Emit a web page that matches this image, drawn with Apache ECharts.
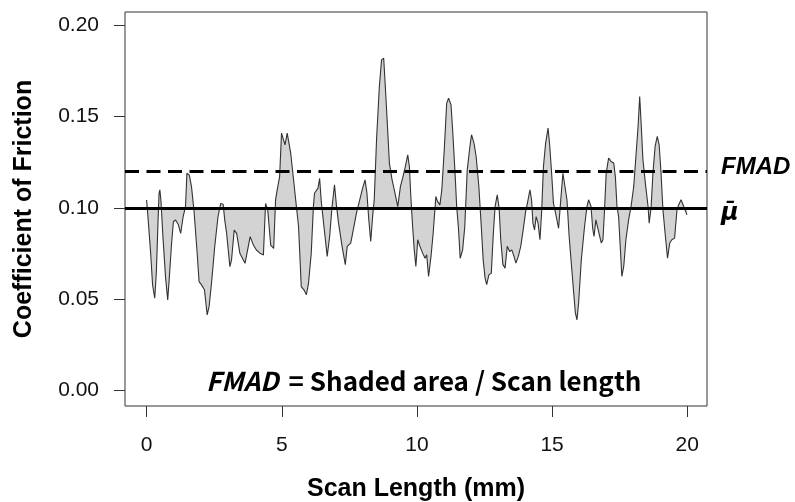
<!DOCTYPE html>
<html>
<head>
<meta charset="utf-8">
<script src="https://cdn.jsdelivr.net/npm/echarts@6/dist/echarts.min.js"></script>
<style>
html,body{margin:0;padding:0;background:#fff;}
#chart{width:795px;height:502px;}
</style>
</head>
<body>
<div id="chart"></div>
<script>
// Scan position (mm)
const scanX = [0.00,0.05,0.15,0.22,0.30,0.36,0.42,0.46,0.49,0.53,0.60,0.70,0.78,0.84,0.92,0.99,1.07,1.17,1.26,1.35,1.44,1.49,1.58,1.66,1.75,1.87,1.94,2.03,2.14,2.24,2.31,2.40,2.52,2.64,2.74,2.83,2.89,2.96,3.08,3.14,3.24,3.33,3.45,3.64,3.83,3.95,4.06,4.20,4.32,4.40,4.48,4.59,4.70,4.77,4.83,4.92,4.99,5.05,5.12,5.20,5.26,5.33,5.41,5.54,5.62,5.72,5.82,5.91,5.99,6.09,6.17,6.21,6.34,6.40,6.46,6.56,6.68,6.77,6.86,6.95,7.02,7.10,7.23,7.35,7.42,7.55,7.67,7.76,7.87,7.99,8.08,8.15,8.21,8.29,8.36,8.42,8.51,8.61,8.69,8.77,8.83,8.91,8.98,9.08,9.16,9.29,9.39,9.47,9.57,9.66,9.72,9.78,9.84,9.90,9.96,10.03,10.11,10.21,10.30,10.36,10.43,10.52,10.60,10.70,10.76,10.85,10.92,11.01,11.10,11.17,11.26,11.32,11.41,11.47,11.54,11.60,11.69,11.77,11.86,11.96,12.02,12.11,12.19,12.29,12.38,12.45,12.52,12.58,12.66,12.75,12.82,12.89,12.97,13.04,13.10,13.18,13.26,13.34,13.43,13.51,13.59,13.66,13.75,13.84,13.93,14.02,14.11,14.18,14.24,14.29,14.35,14.41,14.48,14.55,14.61,14.68,14.76,14.85,14.91,14.99,15.05,15.14,15.24,15.32,15.40,15.47,15.55,15.63,15.72,15.80,15.86,15.92,15.98,16.08,16.20,16.29,16.35,16.44,16.50,16.55,16.62,16.72,16.82,16.88,16.94,17.00,17.09,17.18,17.28,17.34,17.40,17.46,17.52,17.58,17.65,17.73,17.83,17.92,18.02,18.10,18.18,18.24,18.30,18.36,18.45,18.55,18.59,18.66,18.73,18.81,18.89,18.96,19.03,19.10,19.18,19.27,19.35,19.43,19.53,19.62,19.68,19.77,19.87,19.99];
// Coefficient of friction
const cof = [0.1044,0.095,0.075,0.058,0.0506,0.065,0.092,0.108,0.1099,0.104,0.085,0.062,0.0497,0.062,0.080,0.0925,0.0934,0.091,0.0861,0.0952,0.101,0.119,0.118,0.1117,0.0989,0.0752,0.0597,0.0579,0.0552,0.0415,0.046,0.0588,0.0789,0.0952,0.1025,0.1021,0.0934,0.0861,0.0679,0.0715,0.0879,0.0861,0.0752,0.0697,0.0843,0.0797,0.077,0.0752,0.0743,0.1025,0.0989,0.0797,0.0779,0.1044,0.1099,0.1172,0.141,0.1419,0.1346,0.141,0.140,0.130,0.119,0.1008,0.0899,0.057,0.0552,0.0525,0.0589,0.0753,0.1008,0.1081,0.1109,0.1163,0.1036,0.0899,0.0735,0.0844,0.1008,0.1127,0.1017,0.0917,0.079,0.069,0.079,0.0808,0.0899,0.097,0.1036,0.1109,0.1154,0.1081,0.0953,0.0817,0.0953,0.1045,0.139,0.1665,0.1811,0.182,0.1665,0.1446,0.1246,0.1154,0.110,0.1008,0.1118,0.1163,0.1227,0.1291,0.1227,0.1045,0.0899,0.0771,0.068,0.0826,0.079,0.0753,0.0725,0.0744,0.0625,0.0735,0.0862,0.1063,0.1036,0.1017,0.110,0.1318,0.1574,0.1601,0.1565,0.1428,0.119,0.1008,0.088,0.0725,0.0771,0.0899,0.1209,0.1337,0.1401,0.1355,0.1282,0.1118,0.0899,0.0716,0.0616,0.058,0.0634,0.0643,0.0844,0.1008,0.1072,0.0999,0.0826,0.069,0.0671,0.079,0.0762,0.0771,0.0735,0.0698,0.0735,0.079,0.088,0.098,0.1045,0.110,0.1045,0.0917,0.088,0.0953,0.0917,0.0826,0.097,0.1227,0.1355,0.1437,0.1346,0.1172,0.1026,0.0963,0.0889,0.1045,0.119,0.1199,0.1045,0.0844,0.068,0.0534,0.0426,0.0388,0.0479,0.0716,0.0899,0.1008,0.1045,0.1008,0.0889,0.0844,0.0935,0.0871,0.0808,0.0826,0.099,0.119,0.1273,0.1255,0.1246,0.1172,0.1008,0.0953,0.079,0.0625,0.068,0.0826,0.0935,0.1008,0.1118,0.1282,0.1446,0.161,0.1446,0.1264,0.1136,0.1008,0.0917,0.0999,0.119,0.1337,0.1392,0.1346,0.119,0.099,0.0862,0.0725,0.0808,0.0826,0.0835,0.099,0.1017,0.1045,0.1008,0.0963];
const meanCof = 0.099;      // mu-bar
const fmadLevel = 0.1217;   // FMAD line
const xTicks = [0, 5, 10, 15, 20];
const yTicks = [0, 0.05, 0.10, 0.15, 0.20];

const points = scanX.map((x, i) => [x, cof[i]]);

const chart = echarts.init(document.getElementById('chart'), null, {renderer: 'canvas'});
const sans = 'Liberation Sans, Arial, sans-serif';
const kr = 'Noto Sans CJK KR, Noto Sans, sans-serif';
chart.setOption({
  animation: false,
  backgroundColor: '#ffffff',
  grid: {left: 125, top: 12, width: 582, height: 394, containLabel: false, outerBoundsMode: 'none',
         show: true, borderColor: '#333', borderWidth: 1, backgroundColor: 'transparent'},
  xAxis: {
    type: 'value', min: -0.8, max: 20.73,
    axisLine: {show: false, onZero: false}, splitLine: {show: false},
    axisTick: {show: true, customValues: xTicks, length: 11, lineStyle: {color: '#333', width: 1}},
    axisLabel: {customValues: xTicks, fontSize: 21, margin: 29, color: '#111', fontFamily: sans},
    name: 'Scan Length (mm)', nameLocation: 'middle', nameGap: 71,
    nameTextStyle: {fontSize: 25, fontWeight: 'bold', color: '#000', fontFamily: sans}
  },
  yAxis: {
    type: 'value', min: -0.0084, max: 0.2073,
    axisLine: {show: false, onZero: false}, splitLine: {show: false},
    axisTick: {show: true, customValues: yTicks, length: 11, lineStyle: {color: '#333', width: 1}},
    axisLabel: {customValues: yTicks, fontSize: 21, margin: 26, color: '#111', fontFamily: sans, formatter: v => v.toFixed(2)},
    name: 'Coefficient of Friction', nameLocation: 'middle', nameGap: 88, nameRotate: 90,
    nameTextStyle: {fontSize: 25, fontWeight: 'bold', color: '#000', fontFamily: sans}
  },
  graphic: [{
    type: 'text', left: 206, top: 368, z: 100,
    style: {
      text: '{i|FMAD} {n|= Shaded area / Scan length}',
      rich: {
        i: {fontStyle: 'italic', fontWeight: 'bold', fontSize: 26, fontFamily: kr, fill: '#000', padding: [0, 4, 0, 0]},
        n: {fontWeight: 'bold', fontSize: 26, fontFamily: kr, fill: '#000'}
      },
      fontWeight: 'bold', fontSize: 26, fontFamily: kr, fill: '#000'
    }
  }],
  series: [{
    type: 'line',
    data: points,
    showSymbol: false,
    symbol: 'none',
    lineStyle: {color: '#333', width: 1.1},
    areaStyle: {color: '#d3d3d3', opacity: 1, origin: meanCof},
    markLine: {
      silent: true, symbol: ['none', 'none'], animation: false,
      data: [
        {yAxis: fmadLevel, lineStyle: {type: [14, 7.5], width: 3, color: '#000'},
         label: {formatter: '{t|FMAD}', position: 'end', distance: 14,
                 rich: {t: {fontSize: 24, fontWeight: 'bold', fontStyle: 'italic', color: '#000', fontFamily: sans, padding: [0, 0, 9, 0]}}}},
        {yAxis: meanCof, lineStyle: {type: 'solid', width: 3, color: '#000'},
         label: {formatter: '{m|μ\u0304}', position: 'end', distance: 14,
                 rich: {m: {fontSize: 24, fontWeight: 'bold', fontStyle: 'italic', color: '#000', fontFamily: 'DejaVu Sans, sans-serif', padding: [12, 0, 0, 0]}}}}
      ]
    }
  }]
});
</script>
</body>
</html>
